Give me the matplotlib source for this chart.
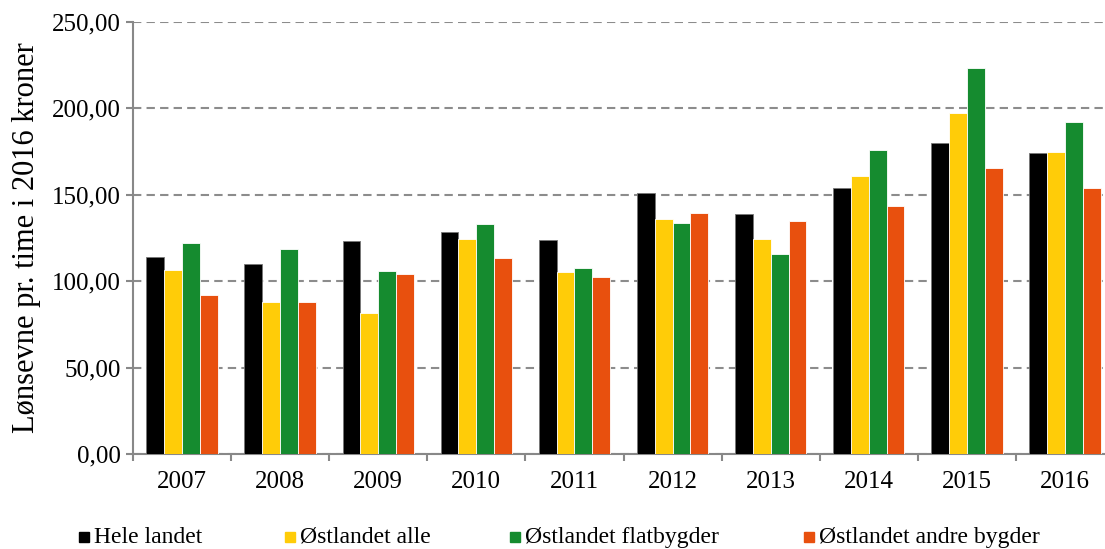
import numpy as np
from matplotlib import pyplot as plt
from matplotlib.lines import Line2D
from matplotlib.ticker import FuncFormatter, MultipleLocator

years = ["2007", "2008", "2009", "2010", "2011", "2012", "2013", "2014", "2015", "2016"]
series = ["Hele landet", "Østlandet alle", "Østlandet flatbygder", "Østlandet andre bygder"]
hele = [113.8, 109.8, 123.1, 128.5, 124.0, 150.9, 138.9, 154.1, 179.8, 174.2]
alle = [106.5, 87.8, 81.8, 124.4, 105.3, 136.0, 124.4, 160.9, 197.3, 174.6]
flat = [121.9, 118.6, 105.7, 133.1, 107.6, 133.7, 115.9, 175.7, 223.2, 192.1]
andre = [92.0, 88.2, 104.4, 113.6, 102.2, 139.7, 135.0, 143.7, 165.7, 153.9]
colors = ["#000000", "#FFCC08", "#158B2F", "#E8500E"]

plt.rcParams['font.family'] = ['Liberation Serif', 'DejaVu Serif']

fig = plt.figure(figsize=(11.05, 5.49), dpi=100)
ax = fig.add_axes([133 / 1105, 95 / 549, 981 / 1105, 432 / 549])

x = np.arange(len(years))
w = 0.182
for i, (vals, name) in enumerate(zip([hele, alle, flat, andre], series)):
    edge = "#777777" if i == 0 else "white"
    ax.bar(x + (i - 1.5) * w, vals, w, color=colors[i], label=name,
           edgecolor=edge, linewidth=0.6, zorder=3)

ax.set_xlim(-0.5, len(years) - 0.5)
ax.set_ylim(0, 250)
ax.yaxis.set_major_locator(MultipleLocator(50))
ax.yaxis.set_major_formatter(FuncFormatter(lambda v, p: f"{v:.2f}".replace(".", ",")))
ax.grid(axis="y", color="#8c8c8c", linestyle=(0, (4, 2.5)), linewidth=1.5, zorder=0)

ax.set_xticks(x)
ax.set_xticklabels(years)
ax.set_xticks(np.arange(-0.5, len(years)), minor=True)
ax.tick_params(axis="x", which="major", length=0, pad=12, labelsize=18)
ax.tick_params(axis="x", which="minor", length=5, color="#888888", width=1.5)
ax.tick_params(axis="y", length=5, color="#888888", width=1.5, labelsize=18, pad=4)

for s in ["top", "right"]:
    ax.spines[s].set_visible(False)
for s in ["left", "bottom"]:
    ax.spines[s].set_color("#888888")
    ax.spines[s].set_linewidth(1.5)

ax.set_ylabel("Lønsevne pr. time i 2016 kroner", fontsize=22, labelpad=8)

# legend built by hand so every entry shares one baseline
legend_x = [79, 285, 510, 804]
legend_dy = [0, 0.5, 0, 0]
for name, c, lx, dy in zip(series, colors, legend_x, legend_dy):
    fig.add_artist(Line2D([(lx + 5) / 1105], [12.5 / 549], marker="s",
                          markersize=7.5, color=c, linestyle="none",
                          transform=fig.transFigure))
    fig.text((lx + 15) / 1105, (6 + dy) / 549, name, fontsize=17, va="baseline")

plt.savefig("out.png", dpi=100)
